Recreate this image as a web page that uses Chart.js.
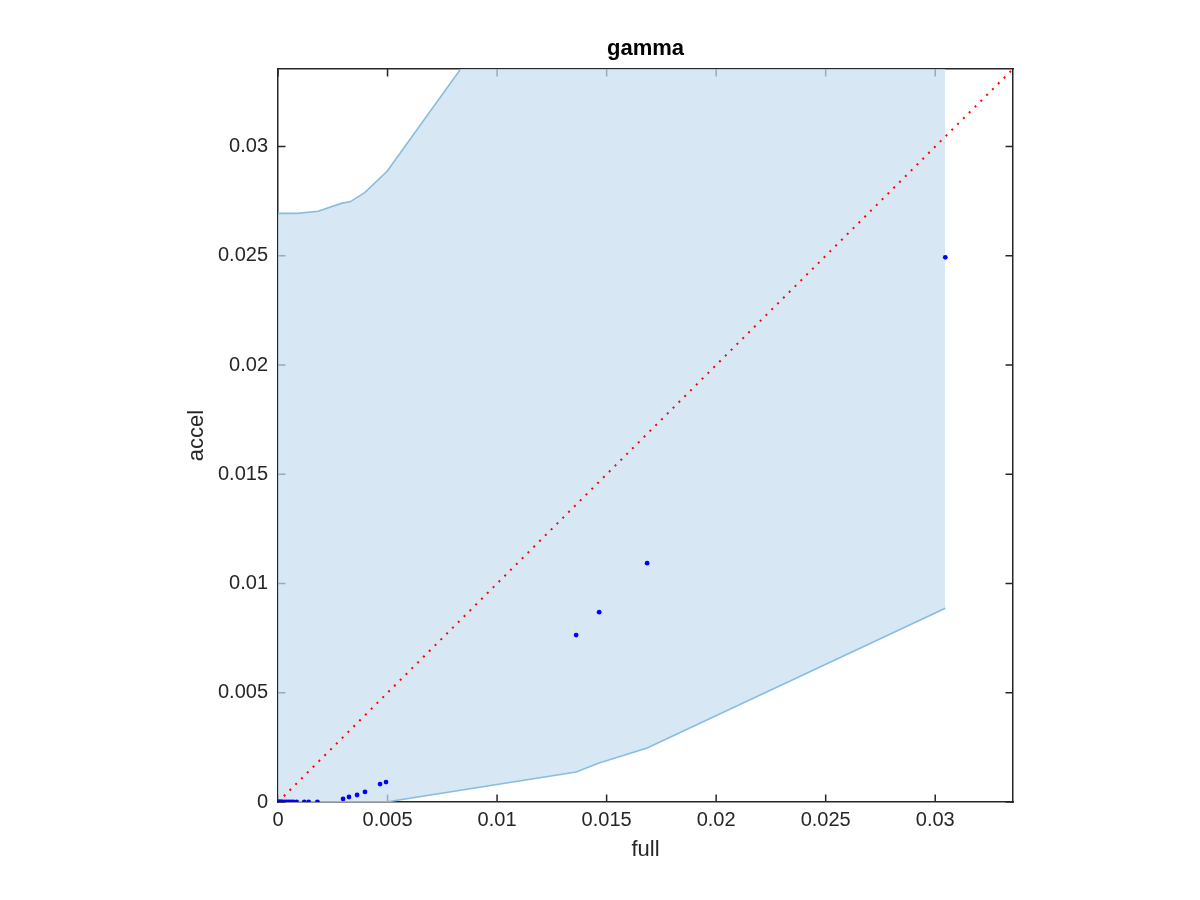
<!DOCTYPE html>
<html>
<head>
<meta charset="utf-8">
<script src="https://cdn.jsdelivr.net/npm/chart.js@4/dist/chart.umd.min.js"></script>
<style>
    body { margin: 0; background: #fff; }
    #wrap { width: 1200px; height: 900px; }
</style>
</head>
<body>
<div id="wrap"><canvas id="gammaChart" width="1200" height="900"></canvas></div>
<script>
// Scatter points (full vs accel)
const fullX = [0, 0.00005, 0.0001, 0.00015, 0.0002, 0.0003, 0.0004, 0.0005, 0.0006, 0.0007, 0.00085,
    0.0012, 0.0014, 0.0018, 0.00297, 0.00324, 0.00361, 0.00397, 0.00466, 0.00493,
    0.01361, 0.01466, 0.01685, 0.03046];
const accelY = [0, 0, 0, 0, 0, 0, 0, 0, 0, 0, 0,
    0, 0, 0.00001, 0.00014, 0.00023, 0.00032, 0.00046, 0.00082, 0.00091,
    0.00764, 0.00869, 0.01093, 0.02493];

// Upper edge of the shaded band
const upperFull = [0, 0.00087, 0.00183, 0.00292, 0.00329, 0.00397, 0.00498, 0.03046];
const upperAccel = [0.02694, 0.02694, 0.02704, 0.02741, 0.02747, 0.0279, 0.02887, 0.0644];

// Lower edge of the shaded band
const lowerFull = [0, 0.00493, 0.01361, 0.01466, 0.01685, 0.03046];
const lowerAccel = [0, 0, 0.00137, 0.00178, 0.00247, 0.00887];

// Axis limits and ticks
const axisMax = 0.03355;
const tickStep = 0.005;

const axisColor = '#262626';
const fontFamily = '"Liberation Sans", Helvetica, Arial, sans-serif';

function toPoints(xs, ys) {
    return xs.map((x, i) => ({ x: x, y: ys[i] }));
}

function tickLabel(value) {
    return Number(value.toFixed(4)).toString();
}

// MATLAB style ticks pointing inwards on all four sides
const innerTicks = {
    id: 'innerTicks',
    beforeDatasetsDraw(chart) {
        const { ctx, chartArea, scales } = chart;
        const len = 7.5;
        ctx.save();
        ctx.strokeStyle = axisColor;
        ctx.lineWidth = 1.5;
        ctx.beginPath();
        scales.x.ticks.forEach(t => {
            const px = scales.x.getPixelForValue(t.value);
            ctx.moveTo(px, chartArea.bottom);
            ctx.lineTo(px, chartArea.bottom - len);
            ctx.moveTo(px, chartArea.top);
            ctx.lineTo(px, chartArea.top + len);
        });
        scales.y.ticks.forEach(t => {
            const py = scales.y.getPixelForValue(t.value);
            ctx.moveTo(chartArea.left, py);
            ctx.lineTo(chartArea.left + len, py);
            ctx.moveTo(chartArea.right, py);
            ctx.lineTo(chartArea.right - len, py);
        });
        ctx.stroke();
        ctx.restore();
    }
};

function initializeChart() {
    const ctx = document.getElementById('gammaChart').getContext('2d');
    new Chart(ctx, {
        type: 'scatter',
        data: {
            datasets: [
                {
                    label: 'points',
                    data: toPoints(fullX, accelY),
                    backgroundColor: '#0000ff',
                    borderColor: '#0000ff',
                    pointRadius: 2.4,
                    pointBorderWidth: 0
                },
                {
                    label: 'diagonal',
                    data: toPoints([0, axisMax], [0, axisMax]),
                    showLine: true,
                    borderColor: '#ff0000',
                    borderWidth: 2,
                    borderDash: [2, 6.2],
                    pointRadius: 0,
                    fill: false
                },
                {
                    label: 'lower',
                    data: toPoints(lowerFull, lowerAccel),
                    showLine: true,
                    borderColor: '#88bde0',
                    borderWidth: 1.6,
                    pointRadius: 0,
                    fill: false
                },
                {
                    label: 'upper',
                    data: toPoints(upperFull, upperAccel),
                    showLine: true,
                    borderColor: '#88bde0',
                    borderWidth: 1.6,
                    backgroundColor: 'rgba(200,222,238,0.72)',
                    pointRadius: 0,
                    fill: '-1'
                }
            ]
        },
        options: {
            responsive: false,
            animation: false,
            layout: { padding: 0 },
            plugins: {
                legend: { display: false },
                tooltip: { enabled: false },
                title: { display: false }
            },
            scales: {
                x: {
                    type: 'linear',
                    position: 'bottom',
                    min: 0,
                    max: axisMax,
                    grid: { display: false, drawTicks: false },
                    border: { display: true, color: axisColor, width: 1.5 },
                    ticks: {
                        stepSize: tickStep,
                        includeBounds: false,
                        padding: 6,
                        color: axisColor,
                        maxRotation: 0,
                        font: { family: fontFamily, size: 20 },
                        callback: tickLabel
                    },
                    title: {
                        display: true,
                        text: 'full',
                        color: axisColor,
                        font: { family: fontFamily, size: 22 },
                        padding: { top: 0, bottom: 37 }
                    },
                    afterFit(scale) { scale.height = 98; }
                },
                x2: {
                    type: 'linear',
                    axis: 'x',
                    position: 'top',
                    min: 0,
                    max: axisMax,
                    grid: { display: false, drawTicks: false },
                    border: { display: true, color: axisColor, width: 1.5 },
                    ticks: { display: false },
                    title: {
                        display: true,
                        text: 'gamma',
                        color: '#000',
                        font: { family: fontFamily, size: 22, weight: 'bold' },
                        padding: { top: 36, bottom: 0 }
                    },
                    afterFit(scale) { scale.height = 69; }
                },
                y: {
                    type: 'linear',
                    position: 'left',
                    min: 0,
                    max: axisMax,
                    grid: { display: false, drawTicks: false },
                    border: { display: true, color: axisColor, width: 1.5 },
                    ticks: {
                        stepSize: tickStep,
                        includeBounds: false,
                        padding: 10,
                        color: axisColor,
                        font: { family: fontFamily, size: 20 },
                        callback: tickLabel
                    },
                    title: {
                        display: true,
                        text: 'accel',
                        color: axisColor,
                        font: { family: fontFamily, size: 22 },
                        padding: { top: 184, bottom: 0 }
                    },
                    afterFit(scale) { scale.width = 278; }
                },
                y2: {
                    type: 'linear',
                    axis: 'y',
                    position: 'right',
                    min: 0,
                    max: axisMax,
                    grid: { display: false, drawTicks: false },
                    border: { display: true, color: axisColor, width: 1.5 },
                    ticks: { display: false },
                    afterFit(scale) { scale.width = 187; }
                }
            }
        },
        plugins: [innerTicks]
    });
}

document.addEventListener('DOMContentLoaded', initializeChart);
</script>
</body>
</html>
